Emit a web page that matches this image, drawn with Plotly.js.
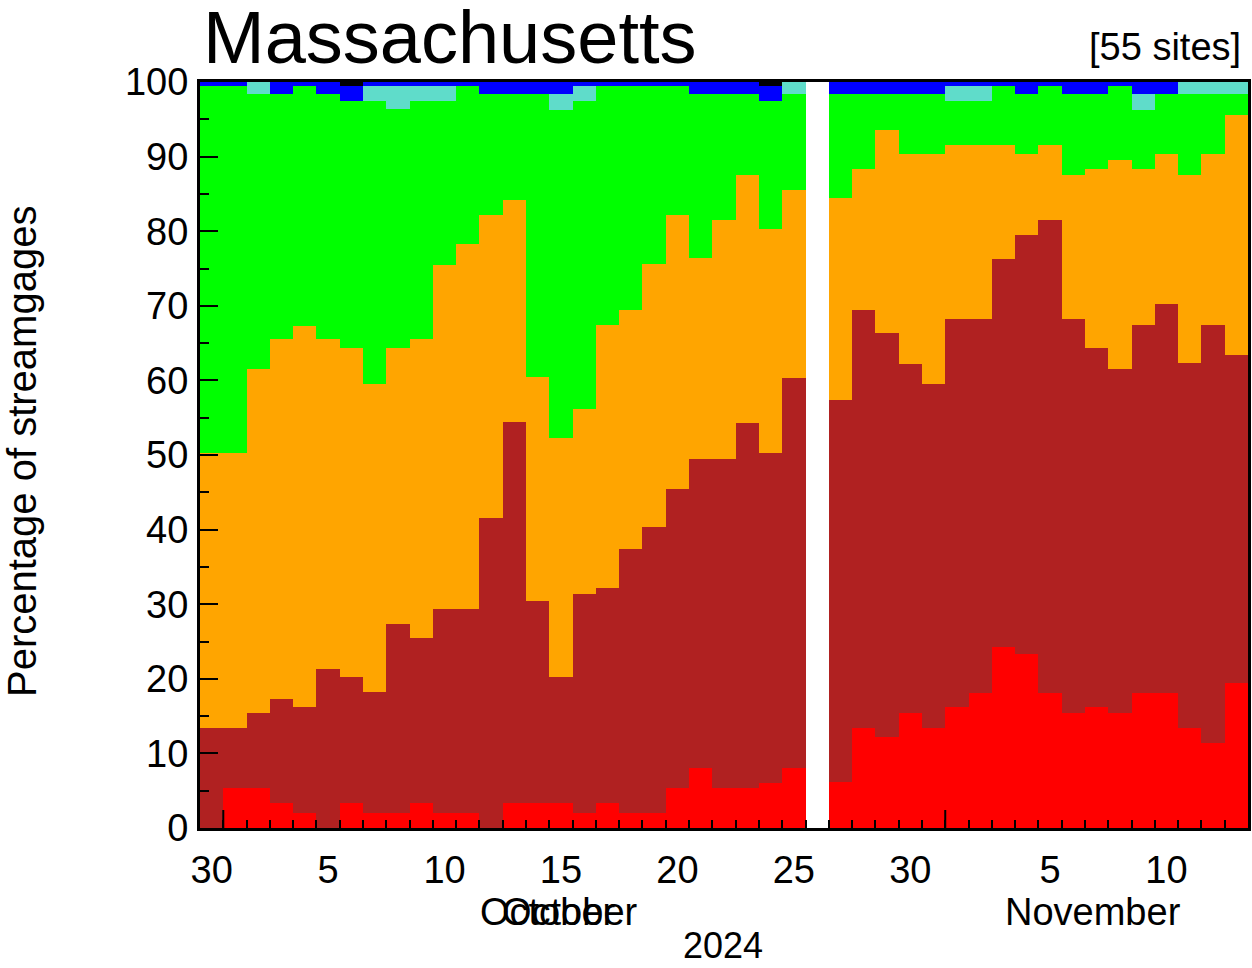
<!DOCTYPE html>
<html>
<head>
<meta charset="utf-8">
<script src="https://cdn.plot.ly/plotly-3.0.1.min.js"></script>
<style>html,body{margin:0;padding:0;background:#fff;}#chart{width:1252px;height:968px;}</style>
</head>
<body>
<div id="chart"></div>
<script>
// Days (Sep 30 – Nov 13, 2024); Oct 26 has no data
const dates = ['2024-09-30','2024-10-01','2024-10-02','2024-10-03','2024-10-04','2024-10-05','2024-10-06','2024-10-07','2024-10-08','2024-10-09','2024-10-10','2024-10-11','2024-10-12','2024-10-13','2024-10-14','2024-10-15','2024-10-16','2024-10-17','2024-10-18','2024-10-19','2024-10-20','2024-10-21','2024-10-22','2024-10-23','2024-10-24','2024-10-25','2024-10-26','2024-10-27','2024-10-28','2024-10-29','2024-10-30','2024-10-31','2024-11-01','2024-11-02','2024-11-03','2024-11-04','2024-11-05','2024-11-06','2024-11-07','2024-11-08','2024-11-09','2024-11-10','2024-11-11','2024-11-12','2024-11-13'];

// Percentage of streamgages in each flow class
const lowPct       = [0,5.4,5.4,3.3,2.0,0,3.3,2.0,2.0,3.3,2.0,2.0,0,3.3,3.3,3.3,2.0,3.3,2.0,2.0,5.3,8.0,5.3,5.3,6.0,8.0,null,6.2,13.4,12.2,15.4,13.4,16.2,18.1,24.2,23.3,18.1,15.4,16.2,15.4,18.1,18.1,13.4,11.4,19.4];
const muchBelowPct = [13.4,8.0,10.0,14.0,14.2,21.3,16.9,16.2,25.3,22.2,27.4,27.4,41.5,51.1,27.1,17.0,29.4,28.9,35.4,38.4,40.2,41.4,44.1,49.0,44.3,52.3,null,51.2,56.0,54.1,46.8,46.1,52.0,50.1,52.1,56.2,63.4,52.8,48.1,46.1,49.3,52.2,48.9,56.0,44.0];
const belowPct     = [36.9,36.9,46.1,48.2,51.1,44.2,44.1,41.3,37.0,40.0,46.1,48.9,40.7,29.8,30.0,32.0,24.8,35.2,32.1,35.2,36.7,27.0,32.1,33.2,30.0,25.2,null,27.0,18.9,27.2,28.1,30.8,23.3,23.3,15.2,10.8,10.0,19.4,24.1,28.0,21.0,20.0,25.3,22.9,32.2];
const normalPct    = [49.2,49.2,36.9,32.9,32.2,32.9,33.2,38.0,32.1,32.0,22.0,21.2,16.2,14.2,38.0,44.0,41.3,32.1,30.0,23.9,17.3,22.0,16.9,10.9,17.2,12.9,null,14.0,10.1,4.9,8.1,8.1,6.0,6.0,8.0,8.1,8.0,10.8,10.0,10.0,7.9,8.1,10.8,8.1,2.8];
const abovePct     = [0,0,1.6,0,0,0,0,2.0,3.1,2.0,2.0,0,0,0,0,2.1,2.0,0,0,0,0,0,0,0,0,1.6,null,0,0,0,0,0,2.0,2.0,0,0,0,0,0,0,2.1,0,1.6,1.6,1.6];
const muchAbovePct = [0.5,0.5,0,1.6,0.5,1.6,2.0,0.5,0.5,0.5,0.5,0.5,1.6,1.6,1.6,1.6,0.5,0.5,0.5,0.5,0.5,1.6,1.6,1.6,2.0,0,null,1.6,1.6,1.6,1.6,1.6,0.5,0.5,0.5,1.6,0.5,1.6,1.6,0.5,1.6,1.6,0,0,0];
const highPct      = [0,0,0,0,0,0,0.5,0,0,0,0,0,0,0,0,0,0,0,0,0,0,0,0,0,0.5,0,null,0,0,0,0,0,0,0,0,0,0,0,0,0,0,0,0,0,0];

const classNames  = ['Low','Much below normal','Below normal','Normal','Above normal','Much above normal','High'];
const classColors = ['#FF0000','#B02121','#FFA500','#00FF00','#5FDCCA','#0000FF','#000000'];
const series = [lowPct, muchBelowPct, belowPct, normalPct, abovePct, muchAbovePct, highPct];

const tickDays   = ['2024-09-30','2024-10-05','2024-10-10','2024-10-15','2024-10-20','2024-10-25','2024-10-30','2024-11-05','2024-11-10'];
const tickLabels = ['30','5','10','15','20','25','30','5','10'];
const monthStarts = ['2024-10-01','2024-11-01'];

const xCenters = dates.map(d => d + ' 12:00');

const traces = series.map((vals, i) => ({
  type: 'bar',
  name: classNames[i],
  x: xCenters,
  y: vals,
  marker: {color: classColors[i], line: {width: 0}},
  hoverinfo: 'x+y+name'
}));

const F = 'Liberation Sans, Arial, sans-serif';

const layout = {
  width: 1252, height: 968,
  margin: {l: 200, r: 4, t: 82, b: 140},
  paper_bgcolor: '#ffffff', plot_bgcolor: '#ffffff',
  barmode: 'stack', bargap: 0,
  showlegend: false,
  font: {family: F, color: '#000', size: 38},
  title: {text: 'Massachusetts', font: {family: F, size: 74, color: '#000'},
          x: 203/1252, xref: 'container', xanchor: 'left',
          y: 1 - 37/968, yref: 'container', yanchor: 'middle'},
  xaxis: {
    type: 'date',
    range: ['2024-09-30 00:00', '2024-11-14 00:00'],
    tickmode: 'array',
    tickvals: tickDays.map(d => d + ' 12:00'),
    ticktext: tickLabels,
    ticks: 'inside', ticklen: 0, tickcolor: 'rgba(0,0,0,0)',
    minor: {tickmode: 'array', tickvals: dates.slice(1), ticks: 'inside', ticklen: 8, tickwidth: 2, tickcolor: '#000', showgrid: false},
    tickfont: {family: F, size: 38, color: '#000'},
    ticklabelstandoff: 6,
    showline: true, mirror: true, linewidth: 3, linecolor: '#000',
    showgrid: false, zeroline: false, fixedrange: true
  },
  yaxis: {
    range: [0, 100],
    tickmode: 'linear', tick0: 0, dtick: 10,
    ticks: 'inside', ticklen: 18, tickwidth: 2, tickcolor: '#000',
    minor: {tickmode: 'linear', tick0: 5, dtick: 10, ticks: 'inside', ticklen: 9, tickwidth: 2, tickcolor: '#000', showgrid: false},
    tickfont: {family: F, size: 38, color: '#000'},
    ticklabelstandoff: 1,
    showline: true, mirror: true, linewidth: 3, linecolor: '#000',
    showgrid: false, zeroline: false, fixedrange: true
  },
  shapes: monthStarts.map(d => ({type: 'line', xref: 'x', yref: 'paper', x0: d, x1: d, y0: 0, y1: 18/746, line: {color: '#000', width: 2}})),
  annotations: [
    {text: '[55 sites]', xref: 'paper', yref: 'paper', x: (1243-200)/1048, y: (828-47)/746, xanchor: 'right', yanchor: 'middle', showarrow: false, font: {family: F, size: 38, color: '#000'}},
    {text: 'Percentage of streamgages', xref: 'paper', yref: 'paper', x: (22-200)/1048, y: (828-452)/746, xanchor: 'center', yanchor: 'middle', textangle: -90, showarrow: false, font: {family: F, size: 40, color: '#000'}},
    {text: 'October', xref: 'paper', yref: 'paper', x: (548-200)/1048, y: (828-912)/746, xanchor: 'center', yanchor: 'middle', showarrow: false, font: {family: F, size: 38, color: '#000'}},
    {text: 'October', xref: 'paper', yref: 'paper', x: (570-200)/1048, y: (828-912)/746, xanchor: 'center', yanchor: 'middle', showarrow: false, font: {family: F, size: 38, color: '#000'}},
    {text: 'November', xref: 'paper', yref: 'paper', x: (1093-200)/1048, y: (828-912)/746, xanchor: 'center', yanchor: 'middle', showarrow: false, font: {family: F, size: 38, color: '#000'}},
    {text: '2024', xref: 'paper', yref: 'paper', x: (723-200)/1048, y: (828-946)/746, xanchor: 'center', yanchor: 'middle', showarrow: false, font: {family: F, size: 36, color: '#000'}}
  ]
};

Plotly.newPlot('chart', traces, layout, {displayModeBar: false, staticPlot: true});
</script>
</body>
</html>
